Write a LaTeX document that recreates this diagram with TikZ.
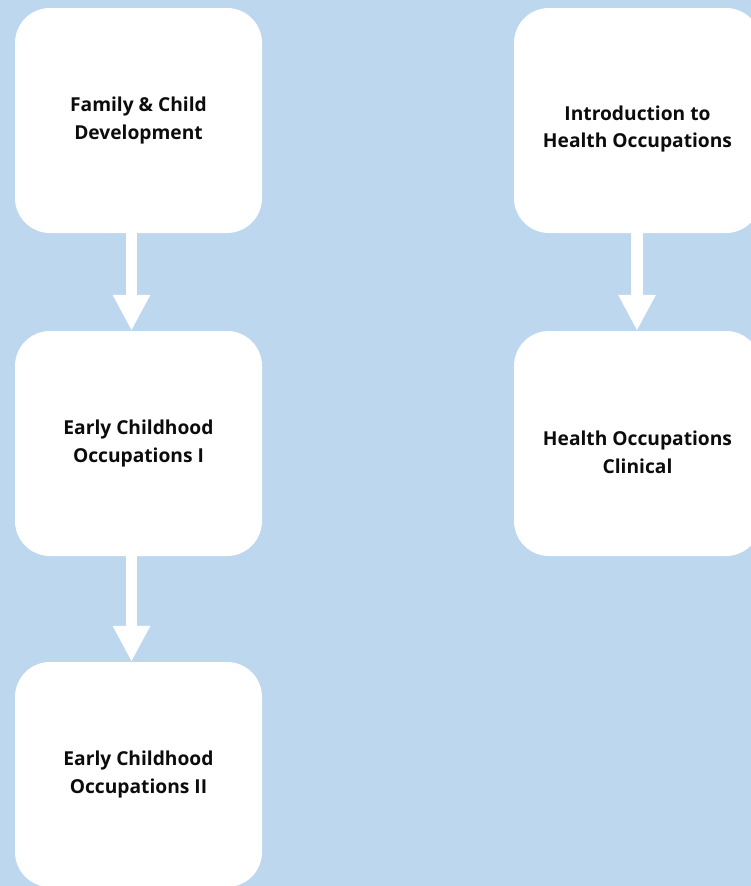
\documentclass[tikz,border=0pt]{standalone}
\usepackage{fontspec}
\setmainfont{Open Sans}
\usetikzlibrary{arrows.meta}
\definecolor{bgblue}{RGB}{189,215,238}
\definecolor{txt}{RGB}{12,12,12}
\tikzset{
  boxtext/.style={inner sep=0pt, align=center, text=txt, font=\fontsize{19.2}{27.5}\selectfont\bfseries},
  box/.style={boxtext, fill=white, draw=none, rounded corners=35pt, minimum width=247pt, minimum height=225pt},
  flow/.style={draw=white, line width=11.5pt, -{Triangle[width=35pt,length=36pt]}}
}
\begin{document}
\begin{tikzpicture}[x=1pt,y=-1pt]
\path[use as bounding box] (0,0) rectangle (751,886);
\fill[bgblue] (0,0) rectangle (751,886);
\clip (0,0) rectangle (751,886);
\node[box] (fcd) at (138.5,120.5) {Family \& Child\\Development};
\node[box] (eco1) at (138.5,443.5) {Early Childhood\\Occupations I};
\node[box] (eco2) at (138.5,774.5) {Early Childhood\\Occupations II};
\node[box] (iho) at (637.5,120.5) {};
\node[box] (hoc) at (637.5,443.5) {};
\node[boxtext] (iho-t) at ([yshift=-8.5pt]iho.center) {Introduction to\\Health Occupations};
\node[boxtext] (hoc-t) at ([yshift=-9pt]hoc.center) {Health Occupations\\Clinical};
\draw[flow] ([xshift=-7pt]fcd.south) -- ([xshift=-7pt]eco1.north);
\draw[flow] ([xshift=-7pt]eco1.south) -- ([xshift=-7pt]eco2.north);
\draw[flow] ([xshift=-0.5pt]iho.south) -- ([xshift=-0.5pt]hoc.north);
\end{tikzpicture}
\end{document}
